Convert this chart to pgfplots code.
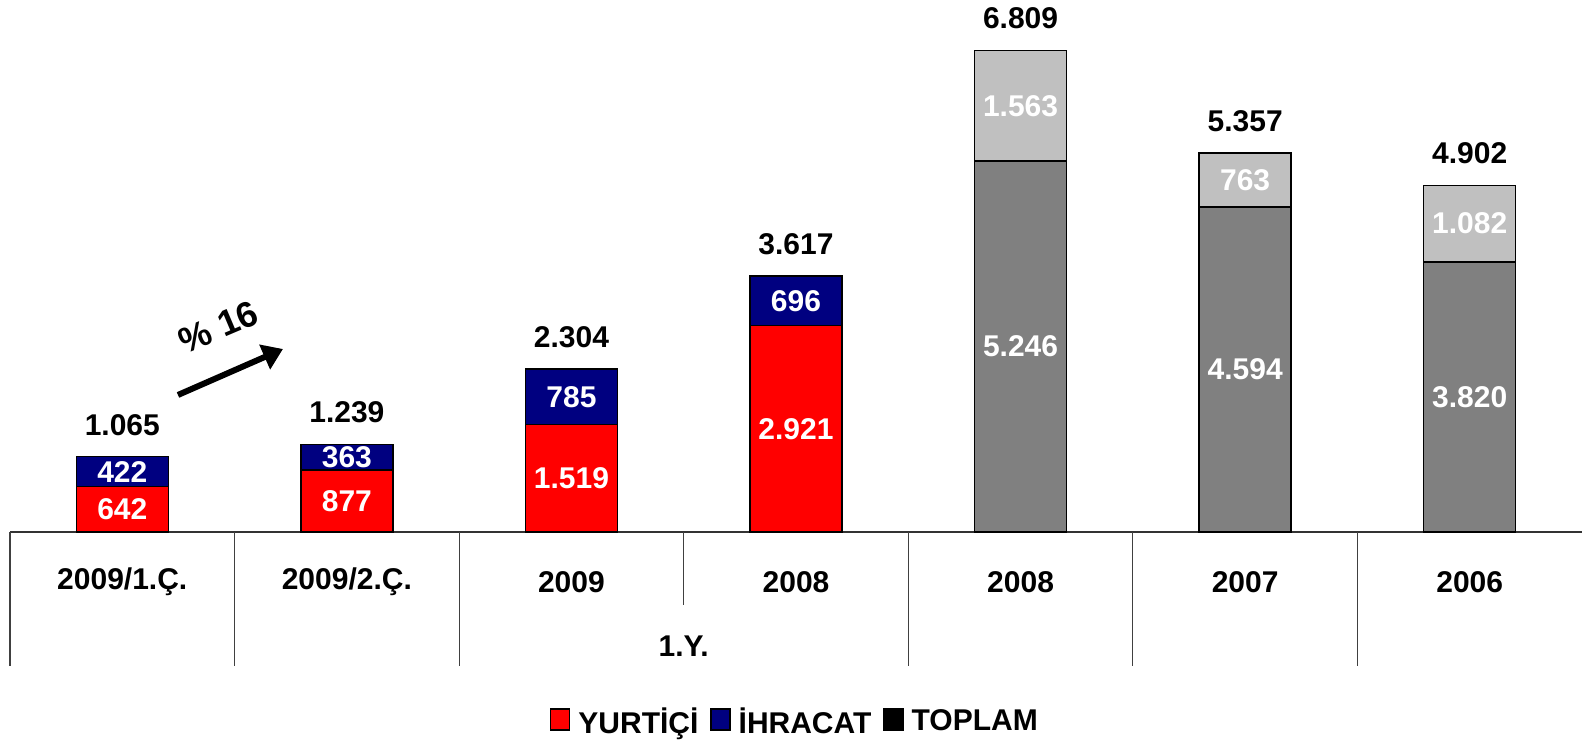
\documentclass[border=0pt]{standalone}
\usepackage{fontspec}
\setmainfont{Liberation Sans}
\usepackage{pgfplots}
\pgfplotsset{compat=1.18}
\usetikzlibrary{arrows.meta}
\definecolor{yurtici}{HTML}{FF0000}
\definecolor{ihracat}{HTML}{000080}
\definecolor{koyugri}{HTML}{808080}
\definecolor{acikgri}{HTML}{C0C0C0}

\begin{document}
\begin{tikzpicture}[font=\fontsize{15}{18}\selectfont\bfseries]
\path[use as bounding box] (-5pt,-105pt) rectangle (786pt,266pt);
\begin{axis}[
  scale only axis,
  width=786pt, height=266pt,
  ybar, bar width=46pt, bar shift=0pt,
  xmin=-0.5, xmax=6.5, ymin=0, ymax=7524,
  axis x line=bottom, axis y line=none,
  x axis line style={-, line width=0.9pt, black!80},
  xtick={0,...,6},
  xticklabels={2009/1.Ç., 2009/2.Ç., 2009, 2008, 2008, 2007, 2006},
  major tick length=0pt,
  xticklabel style={anchor=center, yshift=-25pt},
  ytick=\empty,
  clip=false,
  legend columns=3,
  legend style={draw=none, fill=none, at={(0.5,-0.357)}, anchor=center,
    /tikz/every odd column/.append style={column sep=2pt},
    /tikz/every even column/.append style={column sep=4pt}},
  legend image code/.code={\draw[#1] (0pt,-4pt) rectangle (9.5pt,6.5pt);},
]
% toplam yukseklik (mavi), ustune yurtici (kirmizi)
\addplot[forget plot, fill=ihracat, draw=black, line width=0.75pt] coordinates {(0,1065) (1,1239) (2,2304) (3,3617)};
\addplot[forget plot, fill=yurtici, draw=black, line width=0.75pt] coordinates {(0,642) (1,877) (2,1519) (3,2921)};
\addplot[forget plot, fill=acikgri, draw=black, line width=0.75pt] coordinates {(4,6809) (5,5357) (6,4902)};
\addplot[forget plot, fill=koyugri, draw=black, line width=0.75pt] coordinates {(4,5246) (5,4594) (6,3820)};

% etiketler
\addplot[forget plot, draw=none, fill=none, nodes near coords, point meta=explicit symbolic,
  nodes near coords style={anchor=center, text=white}]
  coordinates {(0,321)[642] (1,438)[877] (2,760)[1.519] (3,1460)[2.921]
               (4,2623)[5.246] (5,2297)[4.594] (6,1910)[3.820]};
\addplot[forget plot, draw=none, fill=none, nodes near coords, point meta=explicit symbolic,
  nodes near coords style={anchor=center, text=white}]
  coordinates {(0,853)[422] (1,1058)[363] (2,1911)[785] (3,3269)[696]
               (4,6027)[1.563] (5,4975)[763] (6,4361)[1.082]};
\addplot[forget plot, draw=none, fill=none, nodes near coords, point meta=explicit symbolic,
  nodes near coords style={anchor=center, text=black, yshift=16pt}]
  coordinates {(0,1065)[1.065] (1,1239)[1.239] (2,2304)[2.304] (3,3617)[3.617]
               (4,6809)[6.809] (5,5357)[5.357] (6,4902)[4.902]};

\addlegendimage{fill=yurtici, draw=black, line width=0.6pt}
\addlegendentry{YURTİÇİ}
\addlegendimage{fill=ihracat, draw=black, line width=0.6pt}
\addlegendentry{İHRACAT}
\addlegendimage{fill=black, draw=black, line width=0.6pt}
\addlegendentry{TOPLAM}

\pgfplotsinvokeforeach{-0.5,0.5,1.5,3.5,4.5,5.5}{
  \draw[black!75, line width=0.6pt] (axis cs:#1,0) -- ([yshift=-67pt]axis cs:#1,0);
}
\draw[black!75, line width=0.6pt] (axis cs:2.5,0) -- ([yshift=-36.5pt]axis cs:2.5,0);
\node at (axis cs:2.5,0) [yshift=-57pt] {1.Y.};

\draw[line width=3pt, -{Triangle[length=10pt, width=13pt]}]
  (axis cs:0.248,1938) -- (axis cs:0.7155,2588);
\node[rotate=23, font=\fontsize{18}{21}\selectfont\bfseries] at (axis cs:0.43,2900) {\% 16};
\end{axis}
\end{tikzpicture}
\end{document}
